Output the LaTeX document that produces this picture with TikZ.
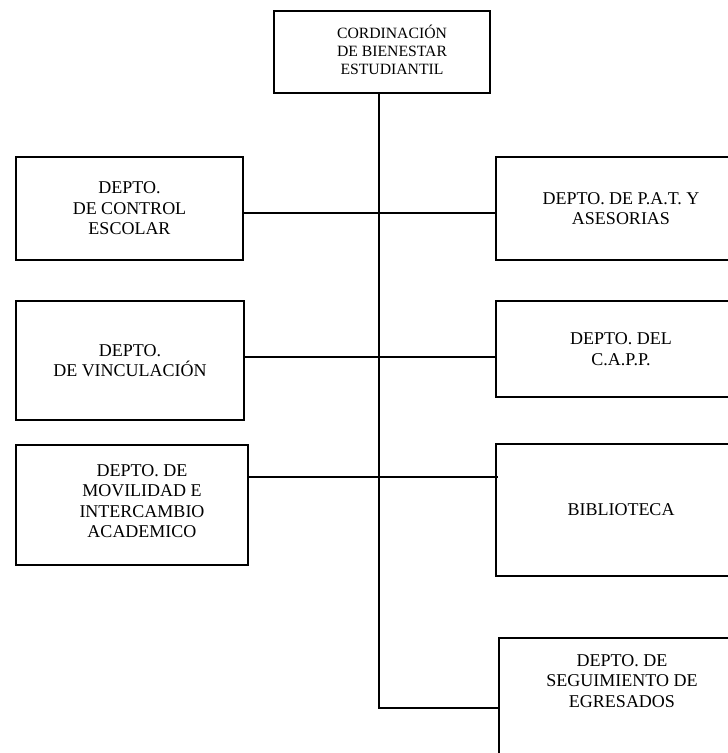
\documentclass[tikz,border=0pt]{standalone}
\usepackage{fontspec}
\setmainfont{Liberation Serif}
\begin{document}
\begin{tikzpicture}[x=1pt,y=-1pt,
  frame/.style={draw, line width=1.6pt, inner sep=0pt},
  box/.style={frame, align=center, font=\fontsize{18}{20.5}\selectfont},
  txt/.style={align=center, inner sep=0pt, font=\fontsize{18}{20.5}\selectfont},
  conn/.style={line width=1.6pt}]
\useasboundingbox (0,0) rectangle (728,753);
\clip (0,0) rectangle (728,753);
% top box
\node[frame, minimum width=216pt, minimum height=82pt] (top) at (382,52) {};
\node[txt, font=\fontsize{15.7}{18.2}\selectfont] (toptxt) at (392,50) {CORDINACIÓN\\DE BIENESTAR\\ESTUDIANTIL};
% left boxes
\node[box, minimum width=227pt, minimum height=103pt] (l1) at (129.5,208.5) {DEPTO.\\DE CONTROL\\ESCOLAR};
\node[box, minimum width=228pt, minimum height=119pt] (l2) at (130,360.5) {DEPTO.\\DE VINCULACIÓN};
\node[frame, minimum width=232pt, minimum height=120pt] (l3) at (132,505) {};
\node[txt] (l3txt) at (142,501) {DEPTO. DE\\MOVILIDAD E\\INTERCAMBIO\\ACADEMICO};
% right boxes
\node[box, minimum width=250pt, minimum height=103pt] (r1) at (621,208.5) {DEPTO. DE P.A.T. Y\\ASESORIAS};
\node[box, minimum width=250pt, minimum height=96pt] (r2) at (621,349) {DEPTO. DEL\\C.A.P.P.};
\node[box, minimum width=250pt, minimum height=132pt] (r3) at (621,510) {BIBLIOTECA};
\node[frame, minimum width=247pt, minimum height=132pt] (b) at (622.5,704) {};
\node[txt] (btxt) at (622,681) {DEPTO. DE\\SEGUIMIENTO DE\\EGRESADOS};
% connectors
\coordinate (s) at (379,93);
\coordinate (c1) at (379,213);
\coordinate (c2) at (379,357);
\coordinate (c3) at (379,477);
\coordinate (c4) at (379,708);
\draw[conn] (s |- top.south) -- (c4) -- (b.west |- c4);
\draw[conn] (l1.east |- c1) -- (r1.west |- c1);
\draw[conn] (l2.east |- c2) -- (r2.west |- c2);
\draw[conn] (l3.east |- c3) -- ([xshift=3pt]r3.west |- c3);
\end{tikzpicture}
\end{document}
